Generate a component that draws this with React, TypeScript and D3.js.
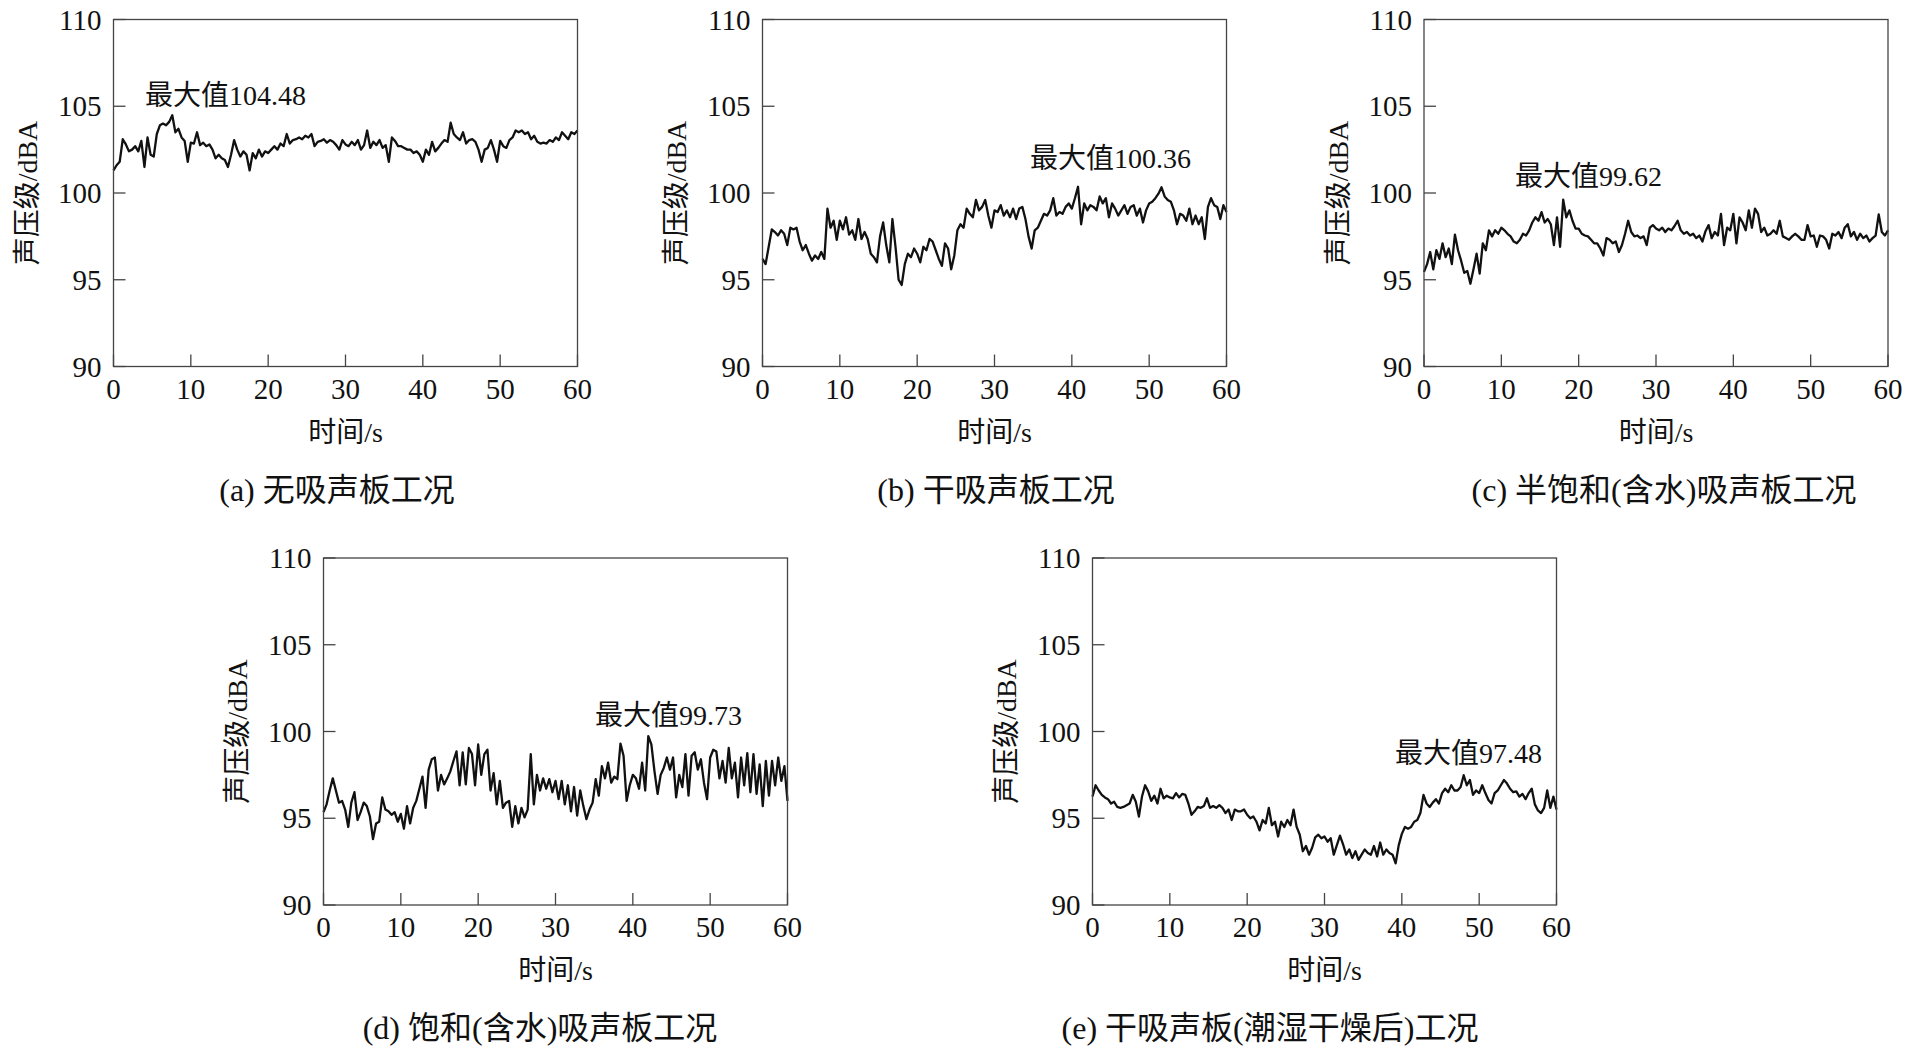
import React from 'react';
import * as d3 from 'd3';

// ---------- data ----------
const TIME_STEP = 0.4; // seconds between samples
const X_TICKS = [0, 10, 20, 30, 40, 50, 60];
const Y_TICKS = [90, 95, 100, 105, 110];
const X_LABEL = '时间/s';
const Y_LABEL = '声压级/dBA';
const CAPTIONS = [
  '(a) 无吸声板工况',
  '(b) 干吸声板工况',
  '(c) 半饱和(含水)吸声板工况',
  '(d) 饱和(含水)吸声板工况',
  '(e) 干吸声板(潮湿干燥后)工况',
];
const MAX_LABELS = ['最大值104.48', '最大值100.36', '最大值99.62', '最大值99.73', '最大值97.48'];

const SERIES_A = [
  101.3, 101.6, 101.8, 103.1, 102.8, 102.4, 102.5, 102.7, 102.4, 103.0,
  101.5, 103.2, 102.2, 102.1, 103.4, 103.9, 104.0, 103.9, 104.1, 104.48,
  103.5, 103.7, 103.2, 103.0, 101.8, 102.9, 102.85, 103.5, 102.76, 102.9,
  102.7, 102.8, 102.5, 102.0, 102.2, 102.0, 101.9, 101.5, 102.2, 103.05,
  102.5, 102.1, 102.4, 102.2, 101.3, 102.3, 102.0, 102.5, 102.1, 102.4,
  102.3, 102.5, 102.7, 102.5, 102.85, 102.7, 103.4, 102.85, 103.05, 103.1,
  103.2, 103.1, 103.3, 103.2, 103.4, 102.7, 102.95, 103.0, 103.1, 102.9,
  103.05, 102.95, 102.76, 102.5, 103.05, 102.8, 102.7, 102.95, 102.76, 103.05,
  102.5, 102.76, 103.6, 102.6, 102.95, 102.76, 103.05, 102.6, 102.76, 101.8,
  103.2, 103.0, 102.7, 102.7, 102.6, 102.5, 102.5, 102.3, 102.4, 102.2,
  101.8, 102.5, 102.2, 102.95, 102.4, 102.6, 102.85, 103.05, 102.95, 104.05,
  103.4, 103.2, 103.05, 103.5, 102.85, 103.05, 103.1, 102.95, 102.5, 101.8,
  102.5, 102.6, 103.05, 102.5, 101.8, 103.0, 102.7, 102.6, 103.05, 103.2,
  103.6, 103.5, 103.6, 103.4, 103.5, 103.1, 103.3, 102.95, 102.85, 102.9,
  102.85, 103.05, 102.95, 103.2, 103.05, 103.5, 103.3, 103.1, 103.5, 103.4,
  103.6,
];

const SERIES_B = [
  96.2, 95.9, 96.9, 97.9, 97.75, 97.55, 97.85, 97.65, 97.0, 98.0,
  97.9, 98.0, 97.2, 96.7, 97.0, 96.5, 96.1, 96.4, 96.2, 96.6,
  96.2, 99.1, 98.0, 98.4, 97.3, 98.4, 97.9, 98.6, 97.6, 97.85,
  97.3, 98.5, 97.35, 97.75, 97.35, 96.5, 96.3, 96.0, 97.5, 98.3,
  97.0, 96.0, 98.5, 96.9, 95.0, 94.7, 95.9, 96.5, 96.3, 96.8,
  96.5, 96.0, 96.9, 96.7, 97.35, 97.2, 96.7, 96.2, 95.8, 97.1,
  96.8, 95.6, 96.4, 97.85, 98.2, 98.0, 99.1, 98.8, 98.6, 99.6,
  99.0, 99.2, 99.6, 98.7, 98.0, 99.0, 98.9, 99.3, 98.7, 99.0,
  98.6, 99.1, 98.5, 99.1, 99.2, 98.5, 97.5, 96.8, 97.85, 98.0,
  98.4, 98.8, 98.7, 99.0, 99.7, 98.7, 98.9, 98.8, 99.2, 99.4,
  99.1, 99.7, 100.36, 98.2, 99.4, 99.0, 99.3, 99.2, 99.0, 99.8,
  99.4, 99.7, 98.6, 99.4, 99.1, 98.7, 99.0, 99.3, 98.8, 99.2,
  99.3, 98.7, 99.1, 98.3, 99.0, 99.4, 99.5, 99.7, 99.96, 100.33,
  99.8, 99.6, 99.5, 99.0, 98.2, 98.8, 98.7, 98.4, 99.1, 98.2,
  98.7, 98.2, 98.6, 97.35, 99.2, 99.7, 99.3, 99.2, 98.5, 99.3,
  98.9,
];

const SERIES_C = [
  95.45, 95.9, 96.6, 95.6, 96.7, 96.2, 97.1, 96.3, 96.8, 95.9,
  97.6, 96.7, 96.1, 95.4, 95.5, 94.77, 95.6, 96.5, 95.35, 97.1,
  96.7, 97.85, 97.5, 97.85, 97.65, 98.0, 97.85, 97.65, 97.5, 97.2,
  97.1, 97.3, 97.65, 97.55, 97.85, 98.3, 98.6, 98.4, 98.9, 98.3,
  98.5, 98.2, 97.0, 98.6, 96.9, 99.62, 98.6, 99.0, 98.4, 97.95,
  97.95, 97.65, 97.55, 97.5, 97.3, 97.1, 97.1, 96.8, 96.4, 97.4,
  97.3, 97.1, 97.2, 96.6, 97.0, 97.65, 98.4, 97.75, 97.5, 97.55,
  97.4, 97.5, 97.0, 98.0, 98.15, 97.95, 97.85, 98.0, 97.75, 97.95,
  97.85, 98.1, 98.4, 97.85, 97.65, 97.75, 97.55, 97.65, 97.4, 97.55,
  97.2, 97.8, 98.15, 97.4, 97.75, 97.55, 98.8, 97.0, 98.0, 97.85,
  98.8, 97.1, 98.6, 98.3, 97.85, 99.0, 98.0, 99.1, 98.8, 97.75,
  98.0, 97.55, 97.65, 97.85, 97.65, 98.4, 97.5, 97.4, 97.3, 97.5,
  97.65, 97.5, 97.3, 97.3, 98.15, 97.5, 97.55, 96.9, 97.55, 97.5,
  97.3, 96.8, 97.65, 97.55, 97.75, 97.4, 98.0, 98.2, 97.5, 97.75,
  97.3, 97.65, 97.4, 97.55, 97.2, 97.4, 97.55, 98.77, 97.75, 97.55,
  97.85,
];

const SERIES_D = [
  95.35, 95.8, 96.6, 97.3, 96.6, 95.9, 96.0, 95.5, 94.5, 95.9,
  96.5, 94.9, 95.35, 95.9, 95.7, 95.1, 93.8, 94.7, 94.8, 96.2,
  95.5, 95.4, 95.2, 95.35, 94.8, 95.25, 94.4, 95.7, 94.7, 95.6,
  96.0, 96.7, 97.4, 95.6, 97.8, 98.4, 98.5, 96.6, 97.5, 96.95,
  97.3, 97.7, 98.3, 98.85, 96.9, 98.8, 96.95, 99.05, 98.7, 96.9,
  99.25, 97.5, 98.7, 98.95, 96.6, 97.6, 95.8, 97.15, 95.6, 95.9,
  96.0, 94.5, 95.7, 94.7, 95.6, 95.05, 95.5, 98.7, 95.8, 97.5,
  96.6, 97.3, 96.7, 97.25, 96.5, 97.15, 96.1, 97.15, 95.8, 96.9,
  95.4, 96.8, 95.15, 96.6, 95.7, 94.95, 95.5, 95.9, 97.25, 96.3,
  98.0, 97.3, 98.2, 97.05, 97.4, 97.25, 99.3, 98.6, 96.0, 96.9,
  97.5, 97.3, 96.7, 98.2, 96.6, 99.73, 99.25, 97.7, 96.4, 97.5,
  97.9, 98.5, 97.8, 98.5, 96.2, 97.5, 96.8, 98.7, 96.3, 98.6,
  98.8, 97.8, 98.4, 97.05, 96.1, 98.5, 98.95, 98.85, 97.3, 98.3,
  97.05, 99.05, 97.3, 98.2, 96.2, 98.5, 96.9, 98.75, 96.5, 98.7,
  96.4, 98.1, 95.7, 98.3, 96.3, 98.3, 96.9, 98.5, 97.15, 98.0,
  96.0,
];

const SERIES_E = [
  96.25, 96.9, 96.6, 96.35, 96.2, 96.1, 95.85, 95.95, 95.65, 95.6,
  95.65, 95.75, 95.85, 96.35, 95.95, 95.1, 96.25, 96.9, 96.55, 96.0,
  96.3, 95.85, 96.7, 96.15, 96.3, 96.2, 96.15, 96.45, 96.2, 96.4,
  96.35, 95.85, 95.2, 95.4, 95.65, 95.6, 95.7, 96.15, 95.6, 95.7,
  95.6, 95.75, 95.6, 95.3, 95.5, 94.9, 95.5, 95.4, 95.4, 95.5,
  95.2, 95.0, 95.1, 94.8, 94.3, 94.9, 94.7, 95.6, 94.6, 94.8,
  93.95, 94.8, 94.5, 94.9, 94.6, 95.5, 94.5, 94.05, 93.1, 93.4,
  92.9, 93.3, 93.9, 94.05, 93.85, 93.95, 93.65, 93.85, 92.9, 93.45,
  94.0, 93.5, 92.9, 93.2, 92.7, 93.1, 92.6, 92.9, 93.2, 93.0,
  92.9, 93.4, 92.8, 93.6, 92.9, 93.2, 93.0, 92.9, 92.4, 93.45,
  94.1, 94.5, 94.4, 94.5, 94.8, 94.9, 95.3, 96.35, 95.85, 95.65,
  95.9, 96.1, 95.85, 96.45, 96.7, 96.5, 96.9, 96.6, 96.6, 96.8,
  97.48, 96.9, 97.2, 96.35, 96.6, 96.45, 96.9, 96.45, 96.05, 95.85,
  96.45, 96.6, 96.9, 97.2, 97.0, 96.7, 96.5, 96.55, 96.25, 96.4,
  96.1, 96.45, 96.7, 95.8, 95.45, 95.3, 95.6, 96.6, 95.6, 96.25,
  95.5,
];

const SERIES = [SERIES_A, SERIES_B, SERIES_C, SERIES_D, SERIES_E];

// ---------- layout ----------
const PLOT_W = 464;
const PLOT_H = 347;
const LAYOUT = [
  { left: 113.5, top: 19.5, capX: 337, capY: 501, annX: 145, annY: 105 },
  { left: 762.5, top: 19.5, capX: 996, capY: 501, annX: 1030, annY: 168 },
  { left: 1424, top: 19.5, capX: 1664, capY: 501, annX: 1515, annY: 186 },
  { left: 323.5, top: 558, capX: 540, capY: 1039, annX: 595, annY: 725 },
  { left: 1092.5, top: 558, capX: 1270, capY: 1039, annX: 1395, annY: 763 },
];

const FONT = "'Liberation Serif', 'Noto Sans CJK SC', serif";

function Panel({ idx }: { idx: number }) {
  const L = LAYOUT[idx];
  const values = SERIES[idx];
  const x = d3.scaleLinear().domain([0, 60]).range([L.left, L.left + PLOT_W]);
  const y = d3.scaleLinear().domain([90, 110]).range([L.top + PLOT_H, L.top]);
  const line = d3
    .line<number>()
    .x((_, i) => x(i * TIME_STEP))
    .y((v) => y(v));
  const bottom = L.top + PLOT_H;
  const tickLen = 12;
  return (
    <g>
      <path d={line(values) || ''} fill="none" stroke="#111" strokeWidth={2.3} strokeLinejoin="round" />
      <rect x={L.left} y={L.top} width={PLOT_W} height={PLOT_H} fill="none" stroke="#444" strokeWidth={1.3} />
      {Y_TICKS.map((t) => (
        <g key={'y' + t}>
          <line x1={L.left} x2={L.left + tickLen} y1={y(t)} y2={y(t)} stroke="#444" strokeWidth={1.3} />
          <text
            x={L.left - 12}
            y={y(t)}
            textAnchor="end"
            dominantBaseline="central"
            fontSize={29}
            fontFamily={FONT}
            fill="#111"
          >
            {t}
          </text>
        </g>
      ))}
      {X_TICKS.map((t) => (
        <g key={'x' + t}>
          <line x1={x(t)} x2={x(t)} y1={bottom} y2={bottom - tickLen} stroke="#444" strokeWidth={1.3} />
          <text x={x(t)} y={bottom + 32} textAnchor="middle" fontSize={29} fontFamily={FONT} fill="#111">
            {t}
          </text>
        </g>
      ))}
      <text
        x={(L.left + L.left + PLOT_W) / 2}
        y={bottom + 75}
        textAnchor="middle"
        fontSize={28}
        fontFamily={FONT}
        fill="#111"
      >
        {X_LABEL}
      </text>
      <text
        transform={`translate(${L.left - 86},${L.top + PLOT_H / 2}) rotate(-90)`}
        textAnchor="middle"
        dominantBaseline="central"
        fontSize={28}
        fontFamily={FONT}
        fill="#111"
      >
        {Y_LABEL}
      </text>
      <text x={L.annX} y={L.annY} fontSize={28} fontFamily={FONT} fill="#111">
        {MAX_LABELS[idx]}
      </text>
      <text x={L.capX} y={L.capY} textAnchor="middle" fontSize={32} fontFamily={FONT} fill="#111">
        {CAPTIONS[idx]}
      </text>
    </g>
  );
}

export default function App() {
  return (
    <svg
      width={1913}
      height={1051}
      style={{ position: 'absolute', left: 0, top: 0, display: 'block', background: '#fff' }}
    >
      <rect width={1913} height={1051} fill="#fff" />
      {SERIES.map((_, i) => (
        <Panel key={i} idx={i} />
      ))}
    </svg>
  );
}
